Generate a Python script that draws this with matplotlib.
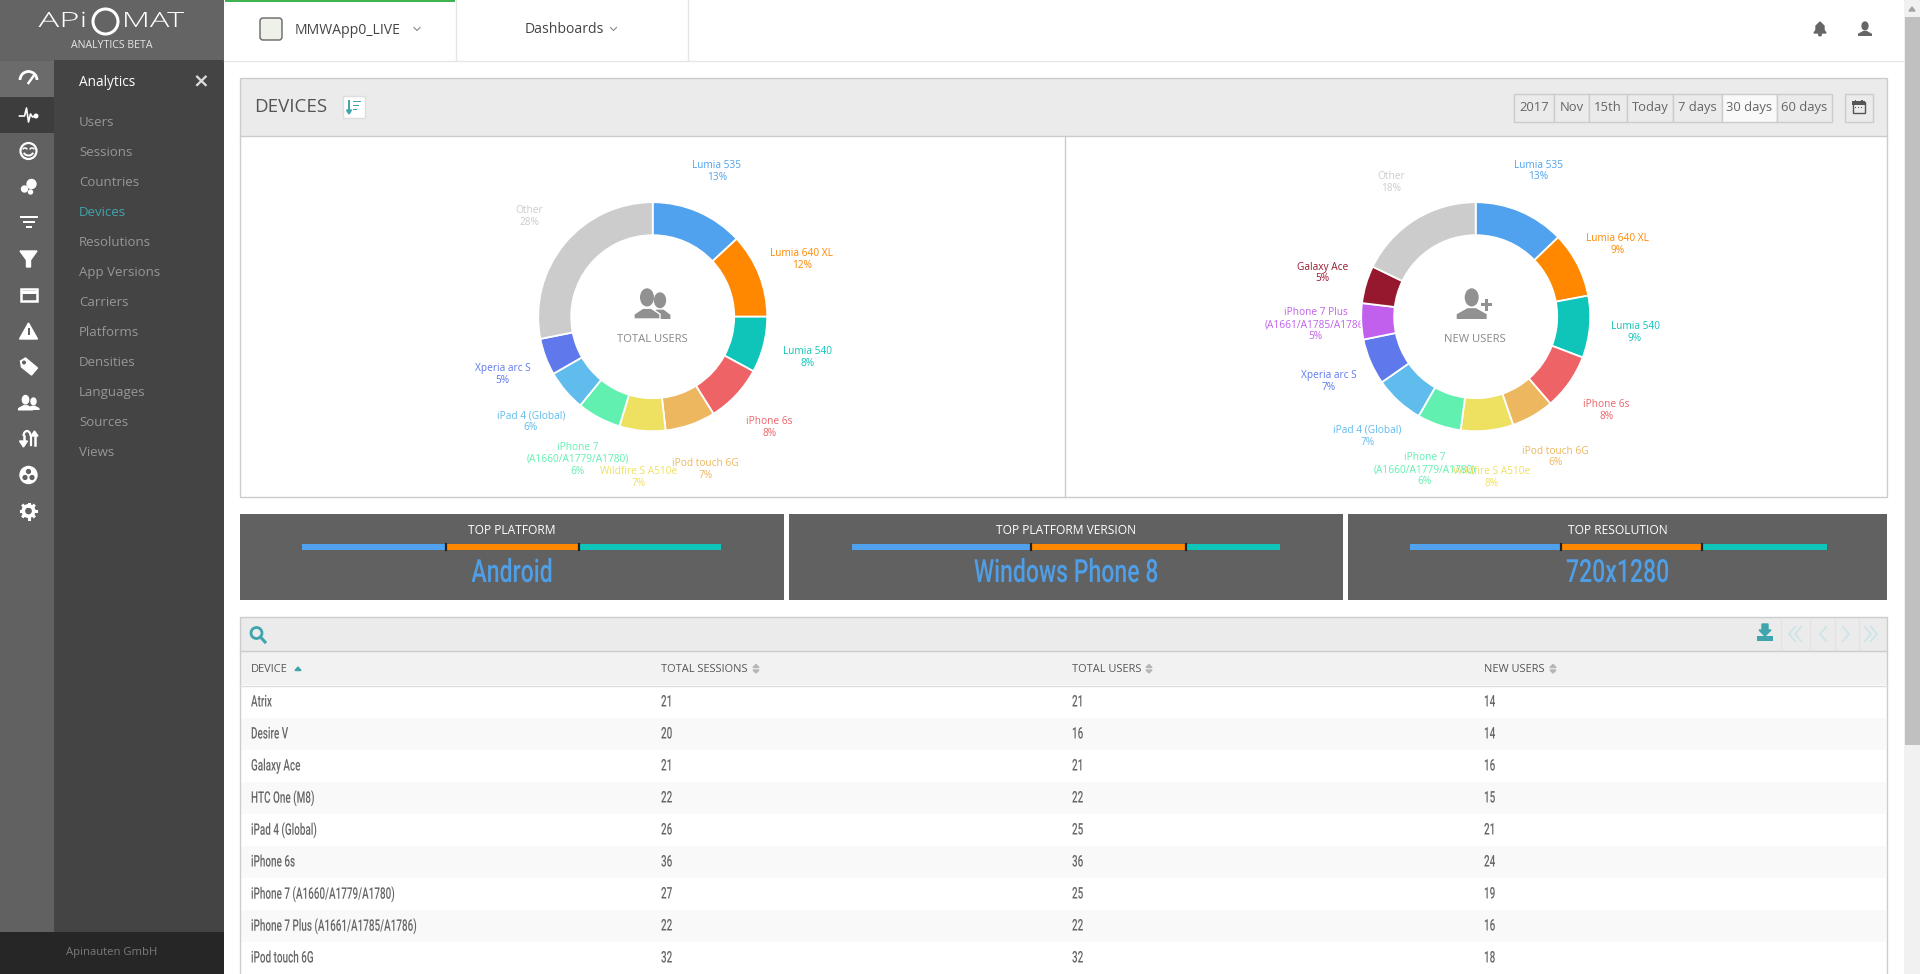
import numpy as np
import matplotlib
matplotlib.use('Agg')
import matplotlib.pyplot as plt
from matplotlib.patches import Rectangle, Circle, Polygon, Ellipse, Arc, FancyBboxPatch
from matplotlib.patheffects import AbstractPathEffect
from matplotlib.transforms import Affine2D

# the site uses Ubuntu and Oswald which are not here
plt.rcParams['font.family'] = ['Open Sans', 'DejaVu Sans']
NARROW = 'Roboto'

# donut data, percent of the ring
total_labels = ['Lumia 535', 'Lumia 640 XL', 'Lumia 540', 'iPhone 6s', 'iPod touch 6G',
                'Wildfire S A510e', 'iPhone 7\n(A1660/A1779/A1780)', 'iPad 4 (Global)',
                'Xperia arc S', 'Other']
total_values = [13.1, 11.9, 7.9, 8.2, 7.1, 6.5, 6.2, 5.8, 5.2, 28.1]
total_shown = [13, 12, 8, 8, 7, 7, 6, 6, 5, 28]
total_colors = ['#50a2ee', '#ff8800', '#0fc4b9', '#ee6366', '#ecb75f', '#eee060',
                '#62f0b0', '#60bcec', '#5f79ec', '#cccccc']

new_labels = ['Lumia 535', 'Lumia 640 XL', 'Lumia 540', 'iPhone 6s', 'iPod touch 6G',
              'Wildfire S A510e', 'iPhone 7\n(A1660/A1779/A1780)', 'iPad 4 (Global)',
              'Xperia arc S', 'iPhone 7 Plus\n(A1661/A1785/A1786)', 'Galaxy Ace', 'Other']
new_values = [12.8, 9.25, 8.75, 7.9, 6.0, 7.4, 6.2, 7.0, 6.5, 5.1, 5.3, 17.8]
new_shown = [13, 9, 9, 8, 6, 8, 6, 7, 7, 5, 5, 18]
new_colors = ['#50a2ee', '#ff8800', '#0fc4b9', '#ee6366', '#ecb75f', '#eee060',
              '#62f0b0', '#60bcec', '#5f79ec', '#c060ec', '#96182e', '#cccccc']

# top platform / version / resolution blocks
top_titles = ['TOP PLATFORM', 'TOP PLATFORM VERSION', 'TOP RESOLUTION']
top_names = ['Android', 'Windows Phone 8', '720x1280']
top_shares = [[0.343, 0.318, 0.339], [0.418, 0.363, 0.219], [0.363, 0.338, 0.299]]
top_colors = ['#50a2ee', '#ff8800', '#0fc4b9']

# table
table_head = ['DEVICE', 'TOTAL SESSIONS', 'TOTAL USERS', 'NEW USERS']
devices = ['Atrix', 'Desire V', 'Galaxy Ace', 'HTC One (M8)', 'iPad 4 (Global)', 'iPhone 6s',
           'iPhone 7 (A1660/A1779/A1780)', 'iPhone 7 Plus (A1661/A1785/A1786)', 'iPod touch 6G']
total_sessions = [21, 20, 21, 22, 26, 36, 27, 22, 32]
total_users = [21, 16, 21, 22, 25, 36, 25, 22, 32]
new_users = [14, 14, 16, 15, 21, 24, 19, 16, 18]

menu_items = ['Users', 'Sessions', 'Countries', 'Devices', 'Resolutions', 'App Versions', 'Carriers',
              'Platforms', 'Densities', 'Languages', 'Sources', 'Views']
range_buttons = ['2017', 'Nov', '15th', 'Today', '7 days', '30 days', '60 days']


def px(size):
    # css pixels to points at dpi 100
    return size * 0.72


class Squeeze(AbstractPathEffect):
    # no condensed font available, so scale the glyphs sideways around x0
    def __init__(self, x0, k):
        super().__init__()
        self.x0 = x0
        self.k = k

    def draw_path(self, renderer, gc, tpath, affine, rgbFace=None):
        fit = affine + Affine2D().translate(-self.x0, 0).scale(self.k, 1).translate(self.x0, 0)
        renderer.draw_path(gc, tpath, fit, rgbFace)


fig = plt.figure(figsize=(19.2, 9.74), dpi=100, facecolor='white')
ax = fig.add_axes([0, 0, 1, 1])
ax.set_xlim(0, 1920)
ax.set_ylim(974, 0)
ax.axis('off')


def box(x0, y0, x1, y1, color, z=1):
    ax.add_patch(Rectangle((x0, y0), x1 - x0, y1 - y0, facecolor=color, edgecolor='none', zorder=z))


def outline(x0, y0, x1, y1, color='#cccccc', face='none', z=2):
    ax.add_patch(Rectangle((x0, y0), x1 - x0, y1 - y0, facecolor=face, edgecolor=color, lw=1.0, zorder=z))


def label(x, y, s, size, color, ha='left', k=None, **kw):
    # open sans sits about a pixel high compared to the page, hence y + 1
    t = ax.text(x, y + 1, s, fontsize=px(size), color=color, ha=ha, va='center', zorder=5, **kw)
    if k is not None:
        t.set_path_effects([Squeeze(x, k)])
    return t


def person(x, y, s, color, z=6, wide=1.0, ec='none'):
    # head and shoulders, s is about the full height
    hw = 0.5 * s * wide
    ax.add_patch(Polygon([(x - hw, y + 0.5 * s), (x - hw, y + 0.34 * s), (x - 0.14 * s, y + 0.14 * s),
                          (x + 0.14 * s, y + 0.14 * s), (x + hw, y + 0.34 * s), (x + hw, y + 0.5 * s)],
                         facecolor=color, edgecolor=ec, lw=1, zorder=z))
    ax.add_patch(Ellipse((x, y - 0.22 * s), 0.42 * s, 0.56 * s, color=color, zorder=z))


# sidebar
box(0, 0, 224, 60, '#646464')
box(0, 60, 54, 932, '#616161')
box(54, 60, 224, 932, '#444444')
box(0, 61, 54, 97, '#6b6b6b')
box(0, 97, 54, 133, '#3d3d3d')
box(0, 932, 224, 974, '#262626')
label(112, 952, 'Apinauten GmbH', 11.2, '#7a7a7a', ha='center')

# logo
label(63, 21, 'APi', 21, 'white', ha='center', k=1.65, fontweight='light')
ax.add_patch(Circle((105.5, 21.5), 12.5, facecolor='none', edgecolor='white', lw=2.2, zorder=5))
label(153, 21, 'MAT', 21, 'white', ha='center', k=1.55, fontweight='light')
label(112, 44.5, 'ANALYTICS BETA', 10.5, '#e6e6e6', ha='center')

# menu
label(79, 82, 'Analytics', 13.6, 'white')
label(200.5, 81, '\u00d7', 20, '#dddddd', ha='center', family='DejaVu Sans', fontweight='bold')
for i, item in enumerate(menu_items):
    col = '#3fa5ad' if item == 'Devices' else '#979797'
    label(79, 121.5 + i * 30, item, 13.2, col)

# sidebar icons, plain shapes
ic = 28.5
w = 'white'
ax.add_patch(Arc((ic, 80), 17, 17, theta1=180, theta2=360, color=w, lw=2, zorder=6))
ax.plot([ic, ic + 5], [83, 76], color=w, lw=1.8, zorder=6)
ax.plot([ic - 9, ic - 4, ic - 2, ic, ic + 2, ic + 4, ic + 7], [116, 116, 108, 122, 114, 117, 116], color=w, lw=1.2, zorder=6)
ax.add_patch(Circle((ic + 7.5, 116), 1.8, color=w, zorder=6))
ax.add_patch(Circle((ic, 151), 8, facecolor='none', edgecolor=w, lw=1.6, zorder=6))
ax.add_patch(Arc((ic, 151), 10, 9, theta1=20, theta2=160, color=w, lw=1.4, zorder=6))
for ex in (-3.5, 3.5):
    ax.add_patch(Arc((ic + ex, 149.5), 4, 3, theta1=180, theta2=360, color=w, lw=1.1, zorder=6))
ax.add_patch(Circle((ic + 3, 184), 4.5, color=w, zorder=6))
ax.add_patch(Circle((ic - 4, 189), 3, color=w, zorder=6))
ax.add_patch(Circle((ic + 2, 192), 2, color=w, zorder=6))
for yy, hw in [(217, 9), (222, 6), (227, 3)]:
    box(ic - hw, yy - 1, ic + hw, yy + 1, w, z=6)
ax.add_patch(Polygon([(ic - 8.5, 251), (ic + 8.5, 251), (ic + 2, 260), (ic + 2, 267), (ic - 2, 267), (ic - 2, 260)], color=w, zorder=6))
ax.add_patch(Rectangle((ic - 8, 289), 16, 12, facecolor='none', edgecolor=w, lw=1.8, zorder=6))
box(ic - 8, 291, ic + 8, 294, w, z=6)
ax.add_patch(Polygon([(ic, 323), (ic + 9, 339), (ic - 9, 339)], color=w, zorder=6))
box(ic - 1, 328, ic + 1, 335, '#616161', z=7)
ax.add_patch(Polygon([(ic - 8, 361), (ic - 3, 358), (ic + 9, 368), (ic + 3, 375), (ic - 7, 367)], color=w, zorder=6))
ax.add_patch(Circle((ic - 4.5, 362.5), 1.3, color='#616161', zorder=7))
person(ic - 3, 403, 15, w)
person(ic + 5, 404, 12, w)
# up and down arrows joined at the top
ax.plot([ic - 5, ic - 5], [443, 436], color=w, lw=1.8, zorder=6)
ax.add_patch(Arc((ic - 1.5, 436), 7, 10, theta1=180, theta2=360, color=w, lw=1.6, zorder=6))
ax.plot([ic + 2, ic + 2], [436, 445], color=w, lw=1.6, zorder=6)
ax.plot([ic + 6, ic + 6], [434, 445], color=w, lw=1.8, zorder=6)
ax.add_patch(Polygon([(ic - 9, 441), (ic - 1, 441), (ic - 5, 447)], color=w, zorder=6))
ax.add_patch(Polygon([(ic + 2.5, 436), (ic + 9.5, 436), (ic + 6, 431)], color=w, zorder=6))
ax.add_patch(Circle((ic, 475), 8.5, color=w, zorder=6))
for dx, dy in [(0, -3.5), (-3.5, 2.5), (3.5, 2.5)]:
    ax.add_patch(Circle((ic + dx, 475 + dy), 1.9, color='#616161', zorder=7))
ax.add_patch(Circle((ic, 511), 5.2, facecolor='#616161', edgecolor=w, lw=2.6, zorder=6))
for a in np.deg2rad(np.arange(0, 360, 45)):
    ax.plot([ic + 5.5 * np.cos(a), ic + 7.5 * np.cos(a)], [511 + 5.5 * np.sin(a), 511 + 7.5 * np.sin(a)], color=w, lw=2.2, zorder=6)

# top bar
box(225, 0, 455, 1.5, '#3fb34f', z=3)
ax.plot([224, 1904], [60.5, 60.5], color='#e6e6e6', lw=1, zorder=2)
ax.plot([455.5, 455.5], [0, 60], color='#e6e6e6', lw=1, zorder=2)
ax.plot([687.5, 687.5], [0, 60], color='#e6e6e6', lw=1, zorder=2)
ax.add_patch(FancyBboxPatch((262, 20), 18, 18, boxstyle='round,pad=2,rounding_size=3', facecolor='#eef0ea', edgecolor='#666666', lw=1, zorder=3))
label(295, 29.5, 'MMWApp0_LIVE', 14, '#444444')
label(525, 28.5, 'Dashboards', 14, '#444444')
for cx in (417, 613.5):
    ax.plot([cx - 3, cx, cx + 3], [27.5, 30.5, 27.5], color='#888888', lw=0.8, zorder=3)

# bell and user in the corner
ax.add_patch(Polygon([(1814, 33), (1816, 30), (1816, 26), (1820, 22), (1824, 26), (1824, 30), (1826, 33)], color='#666666', zorder=3))
ax.add_patch(Circle((1820, 34.5), 1.3, color='#666666', zorder=3))
person(1865, 29, 14, '#666666', z=3)

# scrollbar
box(1904, 0, 1920, 974, '#f1f1f1')
box(1905, 17, 1920, 745, '#c0c0c0', z=2)
ax.add_patch(Polygon([(1909, 11), (1915, 11), (1912, 7)], color='#a3a3a3', zorder=3))

# devices panel
box(240, 78, 1887, 136, '#ebebeb')
outline(240, 78, 1887, 497)
ax.plot([240, 1887], [136, 136], color='#cccccc', lw=1.0, zorder=3)
ax.plot([1065, 1065], [136, 497], color='#cccccc', lw=1.0, zorder=3)
label(254, 106, 'DEVICES', 18.8, '#555555')
outline(343, 96, 365, 118, color='#dddddd', face='white')
ax.plot([349, 349], [101, 113], color='#3fa5ad', lw=1.4, zorder=4)
ax.add_patch(Polygon([(346.5, 110), (351.5, 110), (349, 114)], color='#3fa5ad', zorder=4))
for yy, x1 in [(101.5, 361), (105.5, 359), (109.5, 357)]:
    box(353, yy - 0.8, x1, yy + 0.8, '#3fa5ad', z=4)

btn_edges = [1514, 1554.3, 1588.7, 1627.3, 1673.3, 1721.7, 1776.7, 1831.7]
for i, txt in enumerate(range_buttons):
    face = '#f9f9f9' if txt == '30 days' else '#ebebeb'
    outline(btn_edges[i], 93.5, btn_edges[i + 1], 121.5, face=face)
    label((btn_edges[i] + btn_edges[i + 1]) / 2, 106.5, txt, 13, '#666666', ha='center')
outline(1844.5, 93.5, 1872.5, 121.5)
# calendar
ax.add_patch(Rectangle((1852.5, 102), 12, 11, facecolor='none', edgecolor='#555555', lw=1.0, zorder=4))
box(1852, 101, 1865, 105, '#555555', z=4)
box(1854.5, 99.5, 1856, 102, '#555555', z=4)
box(1861, 99.5, 1862.5, 102, '#555555', z=4)
for dx in (1855, 1858, 1861):
    box(dx, 107, dx + 1.2, 108.2, '#555555', z=4)


# donuts are drawn by pie in their own axes, 1 data unit = 1 pixel
def donut(cx, cy, values, labels, shown, colors):
    dax = fig.add_axes([(cx - 240) / 1920, (974 - cy - 240) / 974, 480 / 1920, 480 / 974])
    dax.pie(values, colors=colors, radius=114.5, startangle=90, counterclock=False,
            wedgeprops=dict(width=33, edgecolor='white', linewidth=1.3))
    dax.set_xlim(-240, 240)
    dax.set_ylim(-240, 240)
    dax.patch.set_alpha(0)
    # the labels sit on a circle around the ring, at the middle of each slice
    mids = (np.cumsum(values) - np.array(values) / 2) / np.sum(values) * 2 * np.pi
    for a, name, pct, col in zip(mids, labels, shown, colors):
        dax.text(160 * np.sin(a), 160 * np.cos(a) - 1.5, '{}\n{}%'.format(name, pct), color=col,
                 fontsize=px(10.1), ha='center', va='center', linespacing=1.1, zorder=0.5)


donut(652.7, 316.7, total_values, total_labels, total_shown, total_colors)
donut(1475.7, 316.7, new_values, new_labels, new_shown, new_colors)

# middle of the donuts, these go on an axes of their own above the pie axes
person(660, 306, 26, '#919191', z=5, wide=0.8)
person(647, 304, 30, '#919191', z=6, wide=0.87, ec='white')
label(652, 339, 'TOTAL USERS', 11.2, '#888888', ha='center')
person(1471.7, 304, 30, '#919191', z=6)
box(1480.5, 303, 1492, 306, '#919191', z=7)
box(1484.7, 298.5, 1487.7, 310.5, '#919191', z=7)
label(1474.5, 339, 'NEW USERS', 11.2, '#888888', ha='center')

# top blocks with their stacked bars
block_edges = [(240, 784), (789, 1343), (1348, 1887)]
bar_edges = [(302, 721), (852, 1280), (1410, 1826.5)]
for (x0, x1), (b0, b1), title, name, shares in zip(block_edges, bar_edges, top_titles, top_names, top_shares):
    box(x0, 514, x1, 600, '#616161')
    mid = (x0 + x1) / 2
    label(mid, 530, title, 12, 'white', ha='center')
    widths = np.array(shares) * (b1 - b0)
    ax.barh(547, widths, left=b0 + np.concatenate(([0], np.cumsum(widths)[:-1])), height=6,
            color=top_colors, edgecolor='none', zorder=3)
    for edge in np.cumsum(widths)[:-1]:
        ax.plot([b0 + edge, b0 + edge], [544, 550], color='#222222', lw=1.6, zorder=4)
    label(mid, 572.5, name, 32, '#4f9fe8', ha='center', family=NARROW, fontweight='medium', k=0.72)

# table toolbar and header
box(240, 617, 1887, 651, '#ebebeb')
box(240, 651, 1887, 685, '#f2f2f2')
outline(240, 617, 1887, 990)
ax.plot([240, 1887], [651, 651], color='#cccccc', lw=1.0, zorder=3)
ax.plot([240, 1887], [685.5, 685.5], color='#dddddd', lw=1.0, zorder=3)
ax.add_patch(Circle((256.5, 633), 5.5, facecolor='none', edgecolor='#3fa5ad', lw=2, zorder=4))
ax.plot([260.5, 265], [637, 642], color='#3fa5ad', lw=2.2, zorder=4)

# download and paging icons
ax.add_patch(Polygon([(1762, 624), (1768, 624), (1768, 630), (1771, 630), (1765, 636), (1759, 630), (1762, 630)], color='#3fa5ad', zorder=4))
box(1757, 636, 1773, 641, '#3fa5ad', z=4)
for xs in (1781, 1810, 1835, 1859):
    ax.plot([xs, xs], [619, 650], color='#e2e2e2', lw=0.8, zorder=3)
chev = '#cde4e8'
for xs, sgn, dbl in [(1795, -1, True), (1823, -1, False), (1846, 1, False), (1871, 1, True)]:
    for off in ([-3, 3] if dbl else [0]):
        ax.plot([xs + off - sgn * 3, xs + off + sgn * 3, xs + off - sgn * 3], [627, 634, 641], color=chev, lw=1.3, zorder=4)

col_x = [251, 661, 1072, 1484]
for x, head in zip(col_x, table_head):
    label(x, 668, head, 11, '#555555')
ax.add_patch(Polygon([(295, 670.5), (301, 670.5), (298, 667)], color='#3fa5ad', zorder=4))
for x in [756, 1149, 1553]:
    ax.add_patch(Polygon([(x - 3, 667.5), (x + 3, 667.5), (x, 664.5)], color='#b5b5b5', zorder=4))
    ax.add_patch(Polygon([(x - 3, 670), (x + 3, 670), (x, 673)], color='#b5b5b5', zorder=4))

# table rows, every second one is slightly grey
for i, name in enumerate(devices):
    y0 = 686 + i * 32
    if i % 2 == 1:
        box(241, y0, 1886, y0 + 32, '#f9f9f9')
    row = [name, total_sessions[i], total_users[i], new_users[i]]
    for x, v in zip(col_x, row):
        label(x, y0 + 15, str(v), 16, '#666666', family=NARROW, fontweight='medium', k=0.62)

fig.savefig('out.png', dpi=100)
